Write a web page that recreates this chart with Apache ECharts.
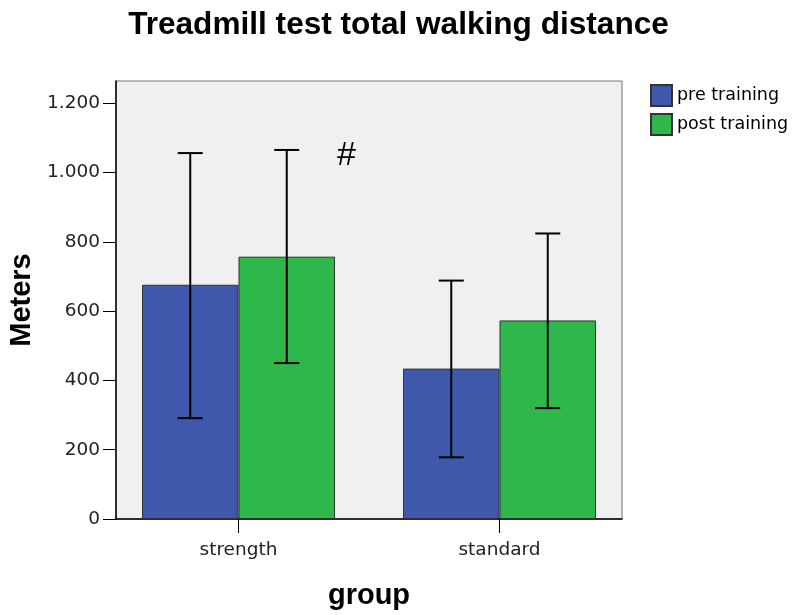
<!DOCTYPE html>
<html>
<head>
	<meta charset="utf-8">
	<title>Treadmill test total walking distance</title>
	<script src="https://cdn.jsdelivr.net/npm/echarts@6/dist/echarts.min.js"></script>
	<style>
		html, body { margin: 0; padding: 0; background: #fff; }
		#main { width: 797px; height: 615px; }
	</style>
</head>
<body>
	<div id="main"></div>
	<script>
		// data
		var groups = ['strength', 'standard'];
		var seriesNames = ['pre training', 'post training'];
		var preMean = [676, 434];
		var postMean = [757, 573];
		var preLow = [291, 178];
		var preHigh = [1056, 688];
		var postLow = [450, 320];
		var postHigh = [1065, 824];
		var yTicks = [0, 200, 400, 600, 800, 1000, 1200];
		var xTicks = [0, 1];

		var BOLD_FONT = 'Liberation Sans, Arial, sans-serif';
		var FONT = 'DejaVu Sans, sans-serif';
		var BAR_W = 96.5;
		var CAP_W = 25;

		// group index on a value axis, so the spacing between groups matches
		function pairs(vals) {
			var out = [];
			for (var i = 0; i < vals.length; i++) out.push([i, vals[i]]);
			return out;
		}

		function errData(low, high) {
			var out = [];
			for (var i = 0; i < groups.length; i++) {
				out.push([i, low[i], high[i]]);
			}
			return out;
		}

		// error bar drawn through the axes, shifted to the bar centre
		function errRenderer(offset) {
			return function (params, api) {
				var c = api.value(0);
				var lo = api.coord([c, api.value(1)]);
				var hi = api.coord([c, api.value(2)]);
				var x = lo[0] + offset;
				var st = { stroke: '#000', lineWidth: 2 };
				return {
					type: 'group',
					children: [
						{ type: 'line', shape: { x1: x, y1: hi[1], x2: x, y2: lo[1] }, style: st },
						{ type: 'line', shape: { x1: x - CAP_W / 2, y1: hi[1], x2: x + CAP_W / 2, y2: hi[1] }, style: st },
						{ type: 'line', shape: { x1: x - CAP_W / 2, y1: lo[1], x2: x + CAP_W / 2, y2: lo[1] }, style: st }
					]
				};
			};
		}

		var myChart = echarts.init(document.getElementById('main'));

		var option = {
			animation: false,
			title: {
				text: 'Treadmill test total walking distance',
				left: 'center',
				top: 4,
				textStyle: { fontFamily: BOLD_FONT, fontSize: 31.6, fontWeight: 'bold', color: '#000' }
			},
			legend: {
				orient: 'vertical',
				left: 650,
				top: 84,
				padding: 0,
				itemWidth: 21,
				itemHeight: 21,
				itemGap: 6,
				icon: 'rect',
				data: seriesNames,
				textStyle: { fontFamily: FONT, fontSize: 17.5, color: '#000' }
			},
			grid: {
				left: 116,
				right: 175,
				top: 81,
				bottom: 96,
				outerBoundsMode: 'none',
				containLabel: false,
				show: true,
				backgroundColor: '#F0F0F0',
				borderColor: '#777',
				borderWidth: 1
			},
			xAxis: {
				type: 'value',
				min: -0.4693,
				max: 1.4693,
				name: 'group',
				nameLocation: 'middle',
				nameGap: 62,
				nameTextStyle: { fontFamily: BOLD_FONT, fontSize: 29, fontWeight: 'bold', color: '#000' },
				splitLine: { show: false },
				axisLine: { show: true, onZero: false, lineStyle: { color: '#000', width: 1.5 } },
				axisTick: { show: true, length: 14, customValues: xTicks, lineStyle: { color: '#000' } },
				axisLabel: {
					fontFamily: FONT,
					fontSize: 18.5,
					color: '#222',
					margin: 22,
					customValues: xTicks,
					formatter: function (v) { return groups[v]; }
				}
			},
			yAxis: {
				type: 'value',
				min: 0,
				max: 1264,
				name: 'Meters',
				nameLocation: 'middle',
				nameGap: 79,
				nameTextStyle: { fontFamily: BOLD_FONT, fontSize: 29, fontWeight: 'bold', color: '#000' },
				splitLine: { show: false },
				axisLine: { show: true, onZero: false, lineStyle: { color: '#000', width: 1.5 } },
				axisTick: { show: true, length: 13, customValues: yTicks, lineStyle: { color: '#000' } },
				axisLabel: {
					fontFamily: FONT,
					fontSize: 18.5,
					color: '#222',
					margin: 16,
					customValues: yTicks,
					formatter: function (v) {
						return String(v).replace(/\B(?=(\d{3})+(?!\d))/g, '.');
					}
				}
			},
			series: [{
				name: seriesNames[0],
				type: 'bar',
				data: pairs(preMean),
				barWidth: BAR_W,
				barGap: '0%',
				itemStyle: { color: '#3F58AB', borderColor: '#333', borderWidth: 1 }
			}, {
				name: seriesNames[1],
				type: 'bar',
				data: pairs(postMean),
				barWidth: BAR_W,
				barGap: '0%',
				itemStyle: { color: '#2EB84B', borderColor: '#333', borderWidth: 1 }
			}, {
				type: 'custom',
				renderItem: errRenderer(-BAR_W / 2),
				data: errData(preLow, preHigh),
				encode: { x: 0, y: [1, 2] },
				z: 10
			}, {
				type: 'custom',
				renderItem: errRenderer(BAR_W / 2),
				data: errData(postLow, postHigh),
				encode: { x: 0, y: [1, 2] },
				z: 10
			}],
			graphic: [{
				type: 'text',
				left: 337,
				top: 139,
				style: { text: '#', fontFamily: BOLD_FONT, fontSize: 34, fill: '#000' }
			}]
		};

		myChart.setOption(option);
	</script>
</body>
</html>
